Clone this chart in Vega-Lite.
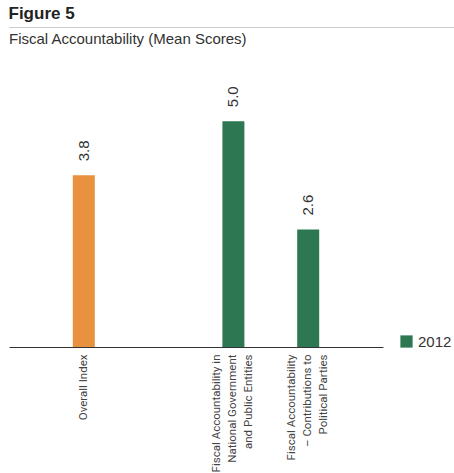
{
  "$schema": "https://vega.github.io/schema/vega-lite/v6.json",
  "padding": {"left": 8, "top": 4, "right": 0, "bottom": 0},
  "autosize": {"type": "pad"},
  "config": {
    "view": {"stroke": null},
    "font": "Liberation Sans",
    "concat": {"spacing": 4}
  },
  "title": {"text": "Figure 5", "anchor": "start", "fontSize": 17, "fontWeight": "bold", "color": "#222222", "offset": 4},
  "resolve": {"legend": {"color": "independent"}},
  "vconcat": [
    {
      "width": 446,
      "height": 0.01,
      "view": {"stroke": "#cccccc", "strokeWidth": 1},
      "data": {"values": []},
      "mark": {"type": "text"},
      "encoding": {}
    },
    {
      "width": 374,
      "height": 271,
      "title": {"text": "Fiscal Accountability (Mean Scores)", "anchor": "start", "fontSize": 15, "fontWeight": "normal", "color": "#333333", "offset": 29},
      "data": {"values": [
        {"indicator": "Overall Index", "score": 3.8, "series": "Overall"},
        {"indicator": "Fiscal Accountability in National Government and Public Entities", "score": 5.0, "series": "2012"},
        {"indicator": "Fiscal Accountability – Contributions to Political Parties", "score": 2.6, "series": "2012"}
      ]},
      "encoding": {
        "x": {
          "field": "indicator",
          "type": "nominal",
          "sort": null,
          "scale": {
            "domain": ["Overall Index", "gap", "Fiscal Accountability in National Government and Public Entities", "Fiscal Accountability – Contributions to Political Parties"],
            "paddingInner": 0,
            "paddingOuter": 0.5
          },
          "axis": {
            "title": null,
            "ticks": false,
            "domainColor": "#333333",
            "domainWidth": 1,
            "labelAngle": -90,
            "labelFont": "Roboto",
            "labelFontSize": 11.5,
            "labelColor": "#444444",
            "labelPadding": 7,
            "labelLineHeight": 16,
            "labelLimit": 0,
            "labelOffset": {"condition": {"test": "datum.value == 'Overall Index'", "value": 0}, "value": -16},
            "labelExpr": "datum.value == 'gap' ? '' : datum.value == 'Overall Index' ? 'Overall Index' : datum.value == 'Fiscal Accountability in National Government and Public Entities' ? ['Fiscal Accountability in', 'National Government', 'and Public Entities'] : ['Fiscal Accountability', '– Contributions to', 'Political Parties']"
          }
        },
        "y": {"field": "score", "type": "quantitative", "scale": {"domain": [0, 6]}, "axis": null}
      },
      "layer": [
        {
          "mark": {"type": "bar", "width": 22},
          "encoding": {
            "color": {
              "field": "series",
              "type": "nominal",
              "scale": {"domain": ["2012", "Overall"], "range": ["#2e7753", "#e8913f"]},
              "legend": {
                "values": ["2012"],
                "orient": "none",
                "legendX": 390,
                "legendY": 258,
                "title": null,
                "symbolType": "square",
                "symbolSize": 150,
                "symbolStrokeWidth": 0,
                "symbolOpacity": 1,
                "labelFont": "Liberation Sans",
                "labelFontSize": 15,
                "labelColor": "#333333"
              }
            }
          }
        },
        {
          "mark": {"type": "text", "angle": -90, "align": "left", "baseline": "middle", "dx": 14, "fontSize": 15, "color": "#333333"},
          "encoding": {"text": {"field": "score", "type": "quantitative", "format": ".1f"}}
        },
        {
          "data": {"values": [{}]},
          "mark": {"type": "rule", "color": "#333333", "strokeWidth": 1, "xOffset": -74.8},
          "encoding": {
            "x": {"datum": "Overall Index", "type": "nominal"},
            "y": {"datum": 0, "type": "quantitative"},
            "y2": {"datum": 0.12}
          }
        },
        {
          "data": {"values": [{}]},
          "mark": {"type": "rule", "color": "#333333", "strokeWidth": 1, "xOffset": 74.3},
          "encoding": {
            "x": {"datum": "Fiscal Accountability – Contributions to Political Parties", "type": "nominal"},
            "y": {"datum": 0, "type": "quantitative"},
            "y2": {"datum": 0.12}
          }
        }
      ]
    }
  ]
}
